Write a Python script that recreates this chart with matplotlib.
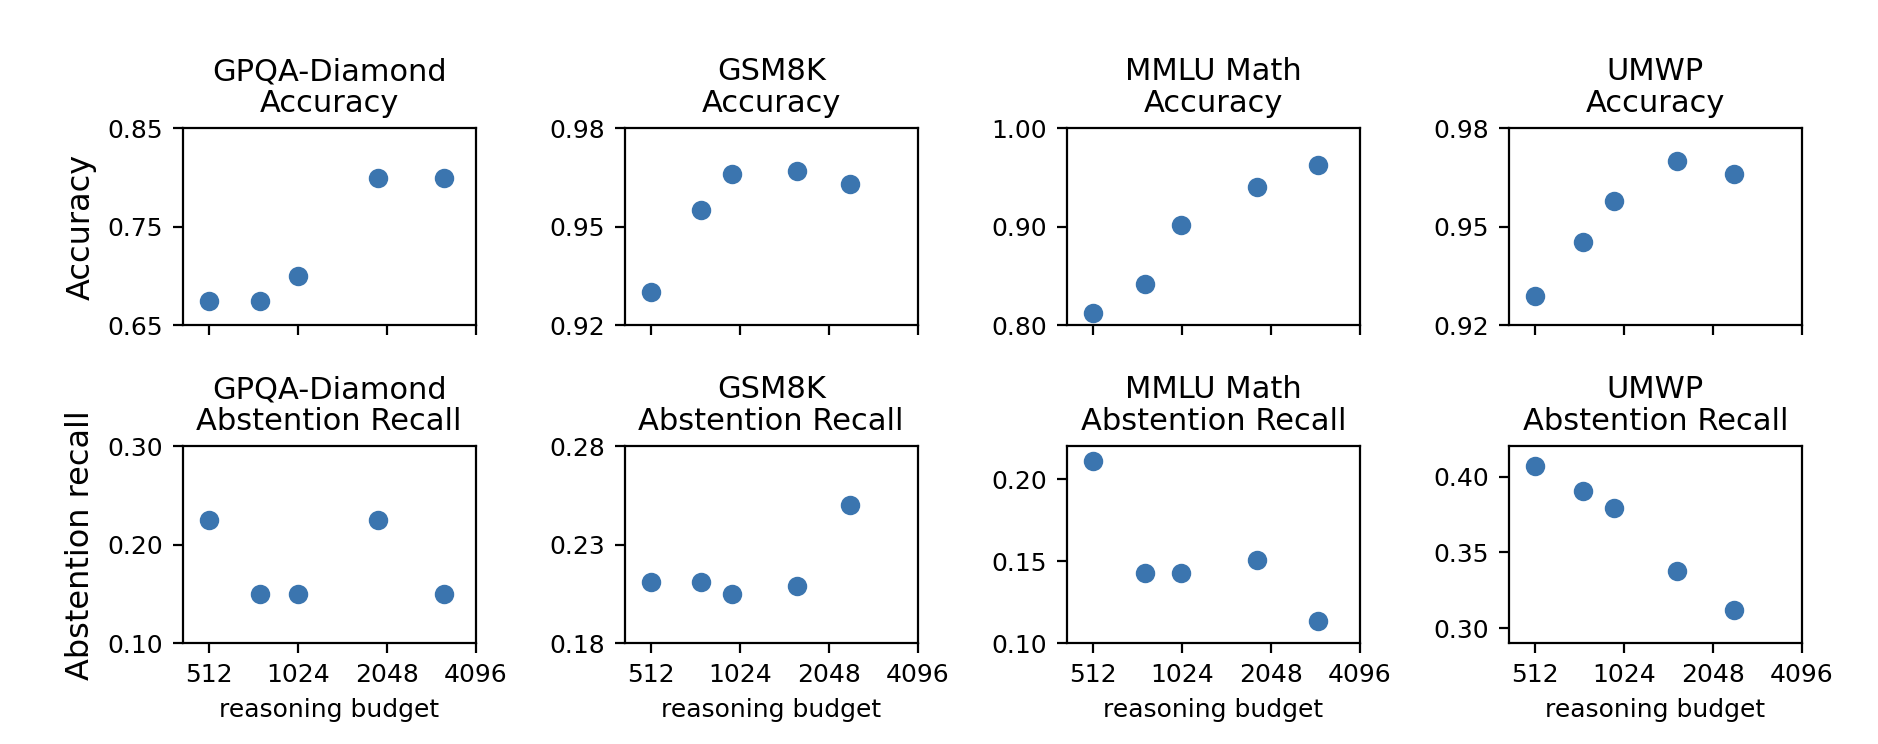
import matplotlib
matplotlib.use("Agg")
import matplotlib.pyplot as plt

# datasets shown as columns
datasets = ["GPQA-Diamond", "GSM8K", "MMLU Math", "UMWP"]

# average reasoning tokens actually used (x position of each point)
budget_gpqa = [512, 766, 1024, 1908, 3193]
budget_gsm8k = [512, 755, 967, 1594, 2423]
budget_mmlu = [512, 770, 1015, 1840, 2950]
budget_umwp = [512, 746, 949, 1551, 2420]

acc_gpqa = [0.675, 0.675, 0.700, 0.800, 0.800]
acc_gsm8k = [0.930, 0.955, 0.966, 0.967, 0.963]
acc_mmlu = [0.812, 0.842, 0.902, 0.940, 0.963]
acc_umwp = [0.929, 0.9455, 0.958, 0.970, 0.966]

rec_gpqa = [0.225, 0.150, 0.150, 0.225, 0.150]
rec_gsm8k = [0.211, 0.211, 0.205, 0.209, 0.250]
rec_mmlu = [0.211, 0.143, 0.143, 0.1505, 0.1135]
rec_umwp = [0.407, 0.3905, 0.379, 0.338, 0.312]

budgets = [budget_gpqa, budget_gsm8k, budget_mmlu, budget_umwp]
accs = [acc_gpqa, acc_gsm8k, acc_mmlu, acc_umwp]
recs = [rec_gpqa, rec_gsm8k, rec_mmlu, rec_umwp]

xticks = [512, 1024, 2048, 4096]

acc_lims = [(0.65, 0.85), (0.92, 0.98), (0.80, 1.00), (0.92, 0.98)]
acc_ticks = [[0.65, 0.75, 0.85], [0.92, 0.95, 0.98], [0.80, 0.90, 1.00], [0.92, 0.95, 0.98]]
rec_lims = [(0.10, 0.30), (0.18, 0.28), (0.10, 0.22), (0.29, 0.42)]
rec_ticks = [[0.10, 0.20, 0.30], [0.18, 0.23, 0.28], [0.10, 0.15, 0.20], [0.30, 0.35, 0.40]]

color = "#3b75af"

fig, axes = plt.subplots(2, 4, figsize=(9.39, 3.72), dpi=200)
fig.subplots_adjust(left=0.0972, right=0.9595, top=0.8276, bottom=0.1353,
                    wspace=0.507, hspace=0.614)

for j in range(4):
    for i, (vals, lims, ticks, metric) in enumerate([
            (accs[j], acc_lims[j], acc_ticks[j], "Accuracy"),
            (recs[j], rec_lims[j], rec_ticks[j], "Abstention Recall")]):
        ax = axes[i, j]
        ax.scatter(budgets[j], vals, s=36, color=color, zorder=3)
        ax.set_xscale("log", base=2)
        ax.set_xlim(418, 4096)
        ax.set_xticks(xticks)
        ax.minorticks_off()
        if i == 1:
            ax.set_xticklabels([str(t) for t in xticks])
            ax.set_xlabel("reasoning budget", fontsize=9)
        else:
            ax.set_xticklabels([])
        ax.set_ylim(*lims)
        ax.set_yticks(ticks)
        ax.set_yticklabels(["%.2f" % t for t in ticks])
        ax.tick_params(labelsize=9)
        ax.set_title(datasets[j] + "\n" + metric, fontsize=11, linespacing=1.1)

axes[0, 0].set_ylabel("Accuracy", fontsize=11.5)
axes[1, 0].set_ylabel("Abstention recall", fontsize=11.5)

fig.savefig("out.png", dpi=200)
